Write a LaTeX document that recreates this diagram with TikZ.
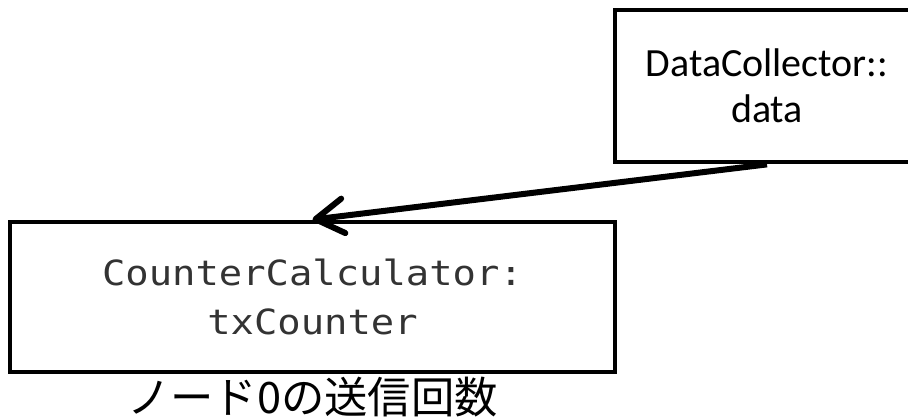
\documentclass[tikz,border=0pt]{standalone}
\usepackage{fontspec}
\setmainfont{Carlito}
\newfontfamily\codefont[FakeStretch=1.12]{DejaVu Sans Mono}
\newfontfamily\jpfont{Noto Sans CJK JP}
\usetikzlibrary{arrows.meta}
\definecolor{codegray}{HTML}{333333}

\begin{document}
\begin{tikzpicture}[x=0.75pt,y=0.75pt,
    box/.style={draw,line width=3.6pt,align=center,inner sep=0pt}]
            \useasboundingbox (0,0) rectangle (908,418);
            \clip (0,0) rectangle (908,418);
            \node[box,minimum width=228pt,minimum height=114pt,
                font=\fontsize{30}{34.5}\selectfont] (D) at (767,332)
                {DataCollector::\\data};
            \node[box,minimum width=453.75pt,minimum height=112.5pt,
                text=codegray,font=\codefont\fontsize{26}{36.75}\selectfont] (C) at (312.5,121)
                {CounterCalculator:\\txCounter};
            \node[anchor=base,inner sep=0pt,font=\jpfont\fontsize{32.5}{36}\selectfont] (N) at (312.5,4)
                {ノード0の送信回数};
            \draw[-{Straight Barb[length=21pt,width=26pt,round]},line width=4.5pt] (D.south) -- (C.north);
        \end{tikzpicture}
\end{document}
